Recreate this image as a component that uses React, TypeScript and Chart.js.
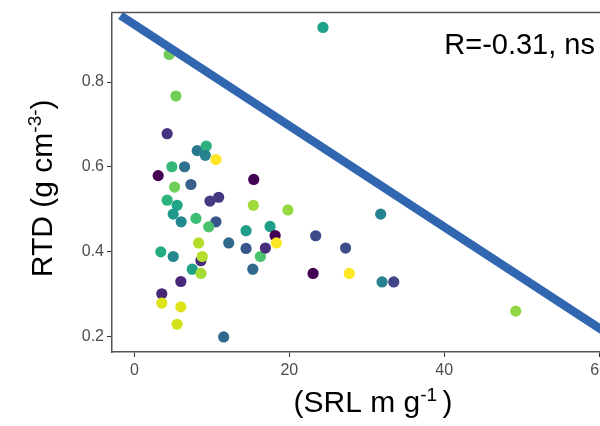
import React, { useEffect, useRef } from "react";
import { Chart, registerables } from "chart.js";

Chart.register(...registerables);

// ---- data ----
const srl = [
  4.48, 5.35, 4.22, 8.1, 9.27, 9.14, 10.52, 4.83, 6.47, 3.06,
  5.18, 7.29, 15.4, 24.34, 4.22, 5.51, 5.0, 6.03, 7.94, 9.75,
  10.87, 10.52, 9.58, 15.35, 14.41, 12.17, 14.41, 16.26, 8.28, 3.4,
  5.0, 8.58, 8.75, 7.46, 8.58, 15.28, 5.99, 3.53, 3.53, 5.99,
  5.51, 11.52, 19.81, 31.79, 17.51, 18.16, 18.33, 23.4, 27.26, 16.91,
  23.06, 27.74, 31.97, 33.48, 49.23,
];
const rtd = [
  0.865, 0.767, 0.678, 0.638, 0.649, 0.627, 0.617, 0.6, 0.6, 0.579,
  0.552, 0.558, 0.57, 0.929, 0.521, 0.509, 0.488, 0.47, 0.478, 0.519,
  0.528, 0.47, 0.458, 0.509, 0.449, 0.42, 0.407, 0.388, 0.42, 0.399,
  0.388, 0.378, 0.388, 0.358, 0.348, 0.358, 0.329, 0.3, 0.278, 0.269,
  0.228, 0.198, 0.498, 0.488, 0.459, 0.4375, 0.42, 0.437, 0.408, 0.408,
  0.348, 0.348, 0.328, 0.328, 0.259,
];
const pointColors = [
  "#6ece58", "#6ece58", "#46337f", "#2a788e", "#2db27d", "#26828e", "#fde725", "#35b779", "#2c728e", "#440154",
  "#6ece58", "#3b5f8b", "#440154", "#1fa187", "#2db27d", "#20a386", "#1f9a8a", "#23898e", "#3dbc74", "#443983",
  "#453882", "#39568c", "#4ac16d", "#a0da39", "#1f9e89", "#31688e", "#39568c", "#4ac16d", "#b5de2b", "#25ab82",
  "#23898e", "#472d7b", "#b5de2b", "#1fa188", "#a5db36", "#31688e", "#482878", "#482878", "#dde318", "#dde318",
  "#d2e21b", "#31688e", "#95d840", "#26828e", "#1f9e89", "#440154", "#fde725", "#3e4c8a", "#3e4c8a", "#472d7b",
  "#440154", "#fde725", "#26828e", "#414487", "#8fd744",
];
const fitX = [-1.8, 64.5];
const fitY = [0.957, 0.165];
const xTicks = [0, 20, 40, 60];
const yTicks = [0.2, 0.4, 0.6, 0.8];
const corLabel = "R=-0.31, ns";
const corPos = { x: 40.0, y: 0.866 };
const xTitle = [
  { t: "(SRL m g", sup: false },
  { t: "-1 ", sup: true },
  { t: ")", sup: false },
];
const yTitle = [
  { t: "RTD (g cm", sup: false },
  { t: "-3-", sup: true },
  { t: ")", sup: false },
];

const FONT = "'Liberation Sans', Arial, sans-serif";
const AXIS = "#555555";

type Part = { t: string; sup: boolean };

function drawRich(ctx: CanvasRenderingContext2D, parts: Part[], cx: number, baseY: number, size: number) {
  const supSize = Math.round(size * 0.62);
  const fontOf = (p: Part) => `${p.sup ? supSize : size}px ${FONT}`;
  let total = 0;
  const widths = parts.map((p) => {
    ctx.font = fontOf(p);
    const w = ctx.measureText(p.t).width;
    total += w;
    return w;
  });
  let x = cx - total / 2;
  ctx.textAlign = "left";
  ctx.textBaseline = "alphabetic";
  parts.forEach((p, i) => {
    ctx.font = fontOf(p);
    ctx.fillText(p.t, x, p.sup ? baseY - size * 0.36 : baseY);
    x += widths[i];
  });
}

const overlay = {
  id: "overlay",
  afterDraw(chart: any) {
    const { ctx, chartArea: ca, scales } = chart;
    ctx.save();
    // top & right panel border
    ctx.strokeStyle = AXIS;
    ctx.lineWidth = 1.5;
    ctx.beginPath();
    ctx.moveTo(ca.left - 0.75, ca.top);
    ctx.lineTo(ca.right, ca.top);
    ctx.lineTo(ca.right, ca.bottom);
    ctx.stroke();

    ctx.fillStyle = "#000";
    // correlation label
    ctx.font = `29px ${FONT}`;
    ctx.textAlign = "left";
    ctx.textBaseline = "alphabetic";
    ctx.fillText(corLabel, scales.x.getPixelForValue(corPos.x), scales.y.getPixelForValue(corPos.y));

    // x title
    drawRich(ctx, xTitle, (ca.left + ca.right) / 2, ca.bottom + 60, 30);

    // y title
    ctx.save();
    ctx.translate(ca.left - 60, (ca.top + ca.bottom) / 2 + 6);
    ctx.rotate(-Math.PI / 2);
    drawRich(ctx, yTitle, 0, 0, 30);
    ctx.restore();

    ctx.restore();
  },
};

export default function App() {
  const ref = useRef<HTMLCanvasElement | null>(null);

  useEffect(() => {
    if (!ref.current) return;
    Chart.defaults.font.family = FONT;
    const chart = new Chart(ref.current, {
      type: "scatter",
      data: {
        datasets: [
          {
            type: "line",
            label: "fit",
            data: fitX.map((x, i) => ({ x, y: fitY[i] })),
            borderColor: "#3166b1",
            borderWidth: 8.5,
            borderCapStyle: "butt",
            pointRadius: 0,
            fill: false,
            tension: 0,
            clip: 0,
            order: 0,
          } as any,
          {
            type: "scatter",
            label: "RTD",
            data: srl.map((x, i) => ({ x, y: rtd[i] })),
            pointBackgroundColor: pointColors,
            pointBorderWidth: 0,
            pointBorderColor: pointColors,
            pointRadius: 5.6,
            order: 1,
          } as any,
        ],
      },
      options: {
        animation: false,
        responsive: false,
        maintainAspectRatio: false,
        layout: { padding: { left: 0, right: 26, top: 10, bottom: 0 } },
        plugins: {
          legend: { display: false },
          tooltip: { enabled: false },
          title: { display: false },
        },
        scales: {
          x: {
            type: "linear",
            min: -2.9,
            max: 64.5,
            afterBuildTicks: (s: any) => {
              s.ticks = xTicks.map((v) => ({ value: v }));
            },
            afterFit: (s: any) => {
              s.height = 74;
            },
            grid: {
              display: true,
              drawOnChartArea: false,
              drawTicks: true,
              tickLength: 5,
              color: "#333333",
              lineWidth: 1,
            },
            border: { display: true, color: AXIS, width: 1.5 },
            ticks: {
              font: { family: FONT, size: 16 },
              color: "#4d4d4d",
              padding: 4,
              maxRotation: 0,
              autoSkip: false,
              callback: (v: any) => String(v),
            },
          },
          y: {
            type: "linear",
            min: 0.1625,
            max: 0.964,
            afterBuildTicks: (s: any) => {
              s.ticks = yTicks.map((v) => ({ value: v }));
            },
            afterFit: (s: any) => {
              s.width = 112;
            },
            grid: {
              display: true,
              drawOnChartArea: false,
              drawTicks: true,
              tickLength: 5,
              color: "#333333",
              lineWidth: 1,
            },
            border: { display: true, color: AXIS, width: 1.5 },
            ticks: {
              font: { family: FONT, size: 16 },
              color: "#4d4d4d",
              padding: 3,
              autoSkip: false,
              callback: (v: any) => Number(v).toFixed(1),
            },
          },
        },
      } as any,
      plugins: [overlay],
    });
    return () => chart.destroy();
  }, []);

  return (
    <div
      style={{
        position: "fixed",
        left: 0,
        top: 0,
        width: 600,
        height: 426,
        overflow: "hidden",
        background: "#ffffff",
      }}
    >
      <canvas ref={ref} width={660} height={426} style={{ display: "block", width: 660, height: 426 }} />
    </div>
  );
}
